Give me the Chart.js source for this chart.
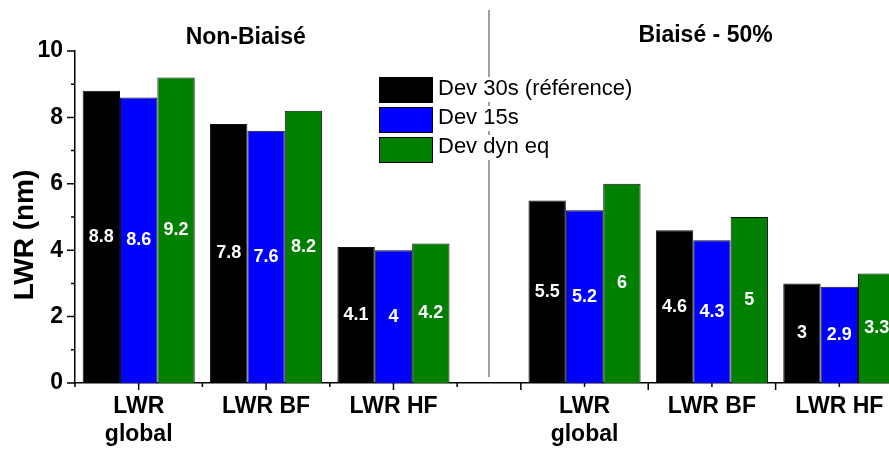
<!DOCTYPE html>
<html>
<head>
<meta charset="utf-8">
<title>LWR</title>
<script src="https://cdn.jsdelivr.net/npm/chart.js@4.4.1/dist/chart.umd.min.js"></script>
<style>
  html, body { margin: 0; padding: 0; background: #fff; overflow: hidden; }
  #wrap { width: 903px; height: 450px; }
</style>
</head>
<body>
<div id="wrap"><canvas id="lwr-chart" width="903" height="450"></canvas></div>
<script>
// data
var categories = [['LWR', 'global'], 'LWR BF', 'LWR HF', ['LWR', 'global'], 'LWR BF', 'LWR HF'];
var categoryX = [0.5, 1.5, 2.5, 4, 5, 6];
var seriesNames = ['Dev 30s (référence)', 'Dev 15s', 'Dev dyn eq'];
var dev30 = [8.8, 7.8, 4.1, 5.5, 4.6, 3];
var dev15 = [8.6, 7.6, 4, 5.2, 4.3, 2.9];
var devDyn = [9.2, 8.2, 4.2, 6, 5, 3.3];
var yMajorTicks = [0, 2, 4, 6, 8, 10];
var yMinorTicks = [1, 3, 5, 7, 9];
var xMajorTicks = [0.5, 1.5, 2.5, 3.5, 4.5, 5.5, 6.5];
var xMinorTicks = [0, 1, 2, 3, 4, 5, 6];
var sectionTitles = ['Non-Biaisé', 'Biaisé - 50%'];
var yTitle = 'LWR (nm)';

var FONT = "'Liberation Sans', Arial, Helvetica, sans-serif";
Chart.defaults.font.family = FONT;
Chart.defaults.color = '#000';

function points(values) {
  return values.map(function (v, i) { return { x: categoryX[i], y: v }; });
}

// divider, tick marks, value labels, titles and legend
var extras = {
  id: 'extras',
  beforeDatasetsDraw: function (chart) {
    var ctx = chart.ctx;
    var px = chart.scales.x.getPixelForValue(3.25);
    ctx.save();
    ctx.strokeStyle = '#808080';
    ctx.lineWidth = 1.5;
    ctx.beginPath();
    ctx.moveTo(px, 10);
    ctx.lineTo(px, 377);
    ctx.stroke();
    ctx.restore();
  },
  afterDraw: function (chart) {
    var ctx = chart.ctx;
    var xs = chart.scales.x, ys = chart.scales.y;
    var area = chart.chartArea;
    ctx.save();

    // tick marks
    ctx.strokeStyle = '#000';
    ctx.lineWidth = 1.5;
    ctx.beginPath();
    yMajorTicks.forEach(function (v) {
      var p = ys.getPixelForValue(v);
      ctx.moveTo(area.left - 8, p); ctx.lineTo(area.left, p);
    });
    yMinorTicks.forEach(function (v) {
      var p = ys.getPixelForValue(v);
      ctx.moveTo(area.left - 4, p); ctx.lineTo(area.left, p);
    });
    xMajorTicks.forEach(function (v) {
      var p = xs.getPixelForValue(v);
      ctx.moveTo(p, area.bottom); ctx.lineTo(p, area.bottom + 7);
    });
    xMinorTicks.forEach(function (v) {
      var p = xs.getPixelForValue(v);
      ctx.moveTo(p, area.bottom); ctx.lineTo(p, area.bottom + 4);
    });
    ctx.stroke();

    // value labels in the middle of each bar
    ctx.fillStyle = '#fff';
    ctx.font = 'bold 18px ' + FONT;
    ctx.textAlign = 'center';
    ctx.textBaseline = 'middle';
    chart.data.datasets.forEach(function (ds, i) {
      chart.getDatasetMeta(i).data.forEach(function (bar, j) {
        ctx.fillText(String(ds.data[j].y), bar.x, (bar.y + bar.base) / 2);
      });
    });

    // section titles
    ctx.fillStyle = '#000';
    ctx.font = 'bold 23px ' + FONT;
    ctx.textBaseline = 'alphabetic';
    ctx.fillText(sectionTitles[0], xs.getPixelForValue(1.34), 44);
    ctx.fillText(sectionTitles[1], xs.getPixelForValue(4.95), 42);

    // y axis title
    ctx.save();
    ctx.translate(33, 235);
    ctx.rotate(-Math.PI / 2);
    ctx.font = 'bold 28px ' + FONT;
    ctx.fillText(yTitle, 0, 0);
    ctx.restore();

    // legend
    ctx.font = '22px ' + FONT;
    ctx.textAlign = 'left';
    ctx.textBaseline = 'middle';
    chart.data.datasets.forEach(function (ds, i) {
      var cy = 90 + i * 30;
      var ty = 89 + i * 29;
      var w = ctx.measureText(ds.label).width;
      ctx.fillStyle = '#fff';
      ctx.fillRect(436, ty - 12, w + 6, 25);
      ctx.fillStyle = ds.backgroundColor;
      ctx.fillRect(379, cy - 13, 54, 26);
      ctx.strokeStyle = '#000';
      ctx.lineWidth = 1;
      ctx.strokeRect(379.5, cy - 12.5, 53, 25);
      ctx.fillStyle = '#000';
      ctx.fillText(ds.label, 438, ty);
    });
    ctx.restore();
  }
};

var ctx = document.getElementById('lwr-chart').getContext('2d');
var chart = new Chart(ctx, {
  type: 'bar',
  data: {
    datasets: [
      { label: seriesNames[0], data: points(dev30), backgroundColor: '#000000' },
      { label: seriesNames[1], data: points(dev15), backgroundColor: '#0000ff' },
      { label: seriesNames[2], data: points(devDyn), backgroundColor: '#008000' }
    ]
  },
  options: {
    responsive: false,
    animation: false,
    devicePixelRatio: 1,
    layout: { padding: { top: 51, left: 0, right: 0, bottom: 0 } },
    datasets: {
      bar: {
        borderColor: '#111',
        borderWidth: 1,
        categoryPercentage: 0.88,
        barPercentage: 1.0
      }
    },
    plugins: {
      legend: { display: false },
      tooltip: { enabled: false }
    },
    scales: {
      x: {
        type: 'linear',
        min: 0,
        max: 6.5,
        offset: false,
        grid: { display: false, drawTicks: false, offset: false },
        border: { display: true, color: '#000', width: 1.5 },
        afterBuildTicks: function (scale) {
          scale.ticks = categoryX.map(function (v) { return { value: v }; });
        },
        afterFit: function (scale) { scale.height = 67; },
        ticks: {
          autoSkip: false,
          maxRotation: 0,
          padding: 10,
          font: { size: 23, weight: 'bold', lineHeight: 1.22 },
          callback: function (value, index) { return categories[index]; }
        }
      },
      y: {
        min: 0,
        max: 10,
        grid: { display: false, drawTicks: false },
        border: { display: true, color: '#000', width: 1.5 },
        afterBuildTicks: function (scale) {
          scale.ticks = yMajorTicks.map(function (v) { return { value: v }; });
        },
        afterFit: function (scale) { scale.width = 75; },
        ticks: {
          padding: 12,
          font: { size: 23, weight: 'bold' }
        }
      }
    }
  },
  plugins: [extras]
});
</script>
</body>
</html>
